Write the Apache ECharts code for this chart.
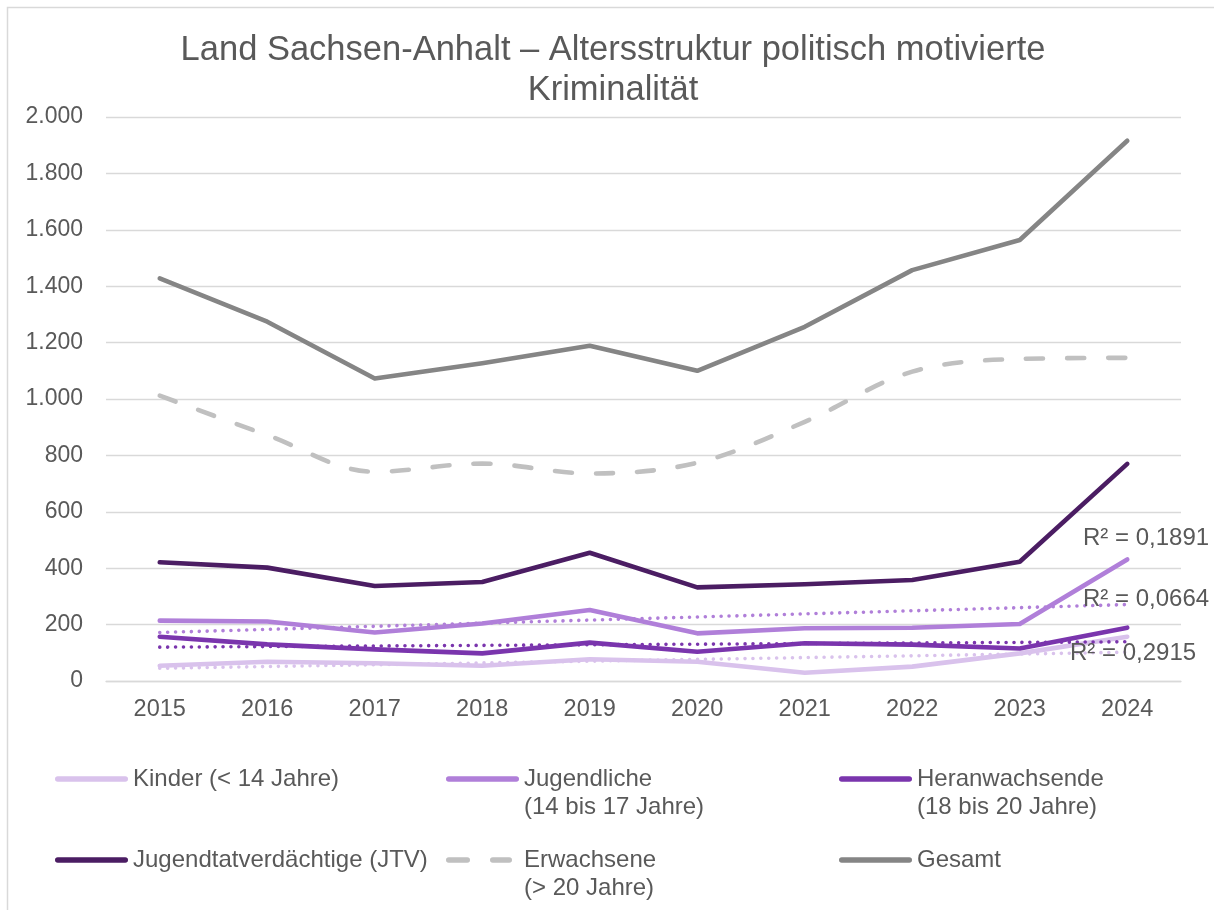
<!DOCTYPE html>
<html>
<head>
<meta charset="utf-8">
<script src="https://cdn.jsdelivr.net/npm/echarts@6/dist/echarts.min.js"></script>
<style>
  html, body { margin: 0; padding: 0; background: #fff; }
  #chart { width: 1214px; height: 910px; }
</style>
</head>
<body>
<div id="chart"></div>
<script>
// values
const years = ['2015', '2016', '2017', '2018', '2019', '2020', '2021', '2022', '2023', '2024'];
const kinder = [54, 68, 63, 54, 77, 68, 29, 51, 98, 157];
const jugendliche = [214, 211, 172, 204, 252, 169, 187, 189, 202, 431];
const heranwachsende = [157, 130, 112, 98, 136, 104, 134, 129, 115, 189];
const jtv = [421, 402, 337, 351, 455, 332, 343, 358, 423, 770];
const erwachsene = [1012, 872, 742, 771, 736, 774, 919, 1097, 1142, 1146];
const gesamt = [1428, 1274, 1073, 1127, 1189, 1100, 1256, 1457, 1564, 1916];

// linear trend lines (start 2015, end 2024) and their R² labels
const trendJugendliche = [172, 271];
const trendHeranwachsende = [120, 139];
const trendKinder = [45, 102];
const r2Labels = ['R² = 0,1891', 'R² = 0,0664', 'R² = 0,2915'];

const FONT = 'Liberation Sans, Arial, sans-serif';
const TXT = '#595959';

function fmt(v) {
  return String(v).replace(/\B(?=(\d{3})+(?!\d))/g, '.');
}

function lineSeries(name, data, color, extra) {
  return Object.assign({
    name: name,
    type: 'line',
    data: data,
    symbol: 'none',
    lineStyle: { color: color, width: 4.6, cap: 'round', join: 'round' },
    itemStyle: { color: color },
    emphasis: { disabled: true }
  }, extra || {});
}

function trendSeries(name, ends, color) {
  let d = years.map(() => null);
  d[0] = ends[0];
  d[d.length - 1] = ends[1];
  return {
    name: name,
    type: 'line',
    data: d,
    connectNulls: true,
    symbol: 'none',
    z: 5,
    lineStyle: { color: color, width: 3.6, type: [0.01, 7.9], cap: 'round' },
    emphasis: { disabled: true }
  };
}

// rounded bar piece for the legend icons (icon box is 73 x 5.5)
function bar(x0, x1) {
  const r = 2.75;
  return 'M' + (x0 + r) + ',0 H' + (x1 - r) + ' A' + r + ',' + r + ' 0 0 1 ' + (x1 - r) + ',5.5 H' +
    (x0 + r) + ' A' + r + ',' + r + ' 0 0 1 ' + (x0 + r) + ',0 Z ';
}
const ICON_SOLID = 'path://' + bar(0, 73);
const ICON_DASH = 'path://' + bar(0, 24) + bar(44, 66) + 'M72.99,0 H73 V0.01 H72.99 Z';

// one legend per item so the 3x2 layout matches
function legendAt(name, left, rowY, twoLine, icon) {
  return {
    data: [name],
    left: left,
    top: twoLine ? rowY - 42 : rowY - 14,
    icon: icon || ICON_SOLID,
    itemWidth: 73,
    itemHeight: 5.5,
    itemGap: 0,
    padding: 0,
    selectedMode: false,
    formatter: function (n) {
      if (!twoLine) return n;
      let i = n.indexOf(' (');
      return '\n' + n.slice(0, i) + '\n' + n.slice(i + 1);
    },
    textStyle: { fontFamily: FONT, fontSize: 24, color: TXT, lineHeight: 28 }
  };
}

const C_KINDER = '#d9c2ec';
const C_JUGEND = '#b07fd9';
const C_HERAN = '#7a35ad';
const C_JTV = '#4b1d63';
const C_ERW = '#c0c0c0';
const C_GES = '#858585';

let myChart = echarts.init(document.getElementById('chart'));
myChart.setOption({
  animation: false,
  backgroundColor: '#fff',
  title: {
    text: 'Land Sachsen-Anhalt – Altersstruktur politisch motivierte\nKriminalität',
    left: 608,
    top: 25,
    textAlign: 'center',
    textStyle: { fontFamily: FONT, fontSize: 34.5, fontWeight: 'normal', color: TXT, lineHeight: 40 }
  },
  grid: { left: 106, right: 33, top: 117, bottom: 229, containLabel: false },
  legend: [
    legendAt('Kinder (< 14 Jahre)', 55, 779, false),
    legendAt('Jugendliche (14 bis 17 Jahre)', 446, 779, true),
    legendAt('Heranwachsende (18 bis 20 Jahre)', 839, 779, true),
    legendAt('Jugendtatverdächtige (JTV)', 55, 860, false),
    legendAt('Erwachsene (> 20 Jahre)', 446, 860, true, ICON_DASH),
    legendAt('Gesamt', 839, 860, false)
  ],
  xAxis: {
    type: 'category',
    data: years,
    boundaryGap: true,
    axisLine: { show: true, lineStyle: { color: '#d9d9d9', width: 1.3 } },
    axisTick: { show: false },
    axisLabel: { fontFamily: FONT, fontSize: 23.5, color: TXT, margin: 17 }
  },
  yAxis: {
    type: 'value',
    min: 0,
    max: 2000,
    interval: 200,
    axisLine: { show: false },
    axisTick: { show: false },
    splitLine: { lineStyle: { color: '#d9d9d9', width: 1.3 } },
    axisLabel: { fontFamily: FONT, fontSize: 23, color: TXT, margin: 23, formatter: fmt }
  },
  series: [
    lineSeries('Kinder (< 14 Jahre)', kinder, C_KINDER),
    lineSeries('Jugendliche (14 bis 17 Jahre)', jugendliche, C_JUGEND),
    lineSeries('Heranwachsende (18 bis 20 Jahre)', heranwachsende, C_HERAN),
    lineSeries('Jugendtatverdächtige (JTV)', jtv, C_JTV),
    lineSeries('Erwachsene (> 20 Jahre)', erwachsene, C_ERW, {
      smooth: 0.35,
      lineStyle: { color: C_ERW, width: 4.6, type: [17, 24], cap: 'round', join: 'round' }
    }),
    lineSeries('Gesamt', gesamt, C_GES),
    trendSeries('Trend Jugendliche', trendJugendliche, C_JUGEND),
    trendSeries('Trend Heranwachsende', trendHeranwachsende, C_HERAN),
    trendSeries('Trend Kinder', trendKinder, C_KINDER)
  ],
  graphic: [
    {
      type: 'rect', silent: true, z: -1,
      shape: { x: 7.5, y: 7.5, width: 1400, height: 1000 },
      style: { fill: null, stroke: '#d9d9d9', lineWidth: 1.5 }
    },
    {
      type: 'text', left: 1083, top: 526, z: 10,
      style: { text: r2Labels[0], fontFamily: FONT, fontSize: 24, fill: TXT }
    },
    {
      type: 'text', left: 1083, top: 587, z: 10,
      style: { text: r2Labels[1], fontFamily: FONT, fontSize: 24, fill: TXT }
    },
    {
      type: 'text', left: 1070, top: 641, z: 10,
      style: { text: r2Labels[2], fontFamily: FONT, fontSize: 24, fill: TXT }
    }
  ]
});
</script>
</body>
</html>
